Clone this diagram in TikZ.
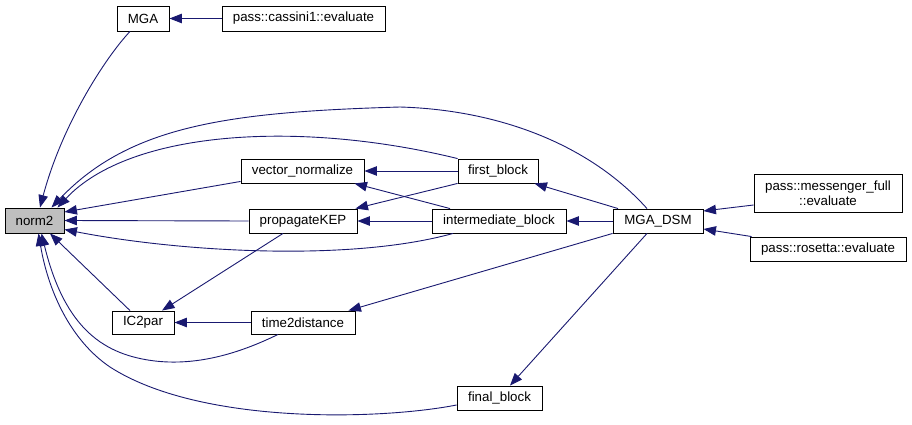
\documentclass[tikz,border=0pt]{standalone}
\usepackage{fontspec}
\setmainfont{Liberation Sans}
\usetikzlibrary{arrows.meta}
\definecolor{edgeblue}{HTML}{191970}
\definecolor{boxgray}{HTML}{BFBFBF}
\begin{document}
\begin{tikzpicture}[x=1pt,y=-1pt,
  fnbox/.style={draw=black, line width=0.9pt, fill=white, inner sep=0pt, align=center,
    font=\fontsize{13.3}{15.5}\selectfont, minimum height=24pt},
  edge/.style={draw=edgeblue, line width=0.9pt, -{Triangle[length=12.5pt,width=9.5pt]}, color=edgeblue}]
\useasboundingbox (0,0) rectangle (912,425);
% nodes
\node[fnbox, fill=boxgray, minimum width=59pt, minimum height=25pt] (norm2) at (34.5,220.5) {norm2};
\node[fnbox, minimum width=52pt, minimum height=25pt] (MGA) at (143,18.5) {MGA};
\node[fnbox, minimum width=163pt, minimum height=25pt] (cassini) at (303.5,18.5) {pass::cassini1::evaluate};
\node[fnbox, minimum width=123pt] (vecnorm) at (302.5,171) {vector\_normalize};
\node[fnbox, minimum width=108pt] (propKEP) at (303,221) {propagateKEP};
\node[fnbox, minimum width=80pt] (first) at (498,171) {first\_block};
\node[fnbox, minimum width=134pt] (inter) at (499,221) {intermediate\_block};
\node[fnbox, minimum width=90pt] (MGADSM) at (658,221) {MGA\_DSM};
\node[fnbox, minimum width=148pt, minimum height=38pt] (messenger) at (828,193) {pass::messenger\_full\\::evaluate};
\node[fnbox, minimum width=156pt] (rosetta) at (828,249) {pass::rosetta::evaluate};
\node[fnbox, minimum width=62pt, minimum height=23pt] (IC2par) at (143,322.5) {IC2par};
\node[fnbox, minimum width=104pt, minimum height=23pt] (t2d) at (303,322.5) {time2distance};
\node[fnbox, minimum width=85pt] (final) at (499.5,398) {final\_block};
% edges into norm2
\draw[edge] ([xshift=-13pt]MGA.south) .. controls (105,58) and (62,125) .. ([xshift=5.5pt]norm2.north);
\draw[edge] ([xshift=-11pt]MGADSM.north) .. controls (590,145) and (500,110) .. (400,107)
  .. controls (230,112) and (130,125) .. ([xshift=17pt]norm2.north);
\draw[edge] (first.north west) .. controls (300,120) and (130,130) .. ([xshift=23pt]norm2.north);
\draw[edge] ([yshift=2pt]vecnorm.south west) -- ([yshift=8.5pt]norm2.east);
\draw[edge] (propKEP.west) -- (norm2.east);
\draw[edge] ([xshift=-46pt]inter.south) .. controls (350,262) and (180,252) .. ([yshift=-9pt]norm2.east);
\draw[edge] ([xshift=-13pt]IC2par.north) -- ([xshift=15.5pt]norm2.south);
\draw[edge] ([xshift=-25pt]t2d.south) .. controls (230,358) and (190,365) .. (155,361)
  .. controls (105,355) and (65,330) .. ([xshift=7pt]norm2.south);
\draw[edge] ([yshift=-7pt]final.west) .. controls (380,420) and (200,425) .. (110,367)
  .. controls (70,340) and (48,290) .. ([xshift=4pt]norm2.south);
% other edges
\draw[edge] (cassini.west) -- (MGA.east);
\draw[edge] (first.west) -- (vecnorm.east);
\draw[edge] (first.south west) -- ([xshift=-2pt]propKEP.north east);
\draw[edge] ([xshift=-49pt]inter.north) -- ([xshift=52pt]vecnorm.south);
\draw[edge] (inter.west) -- (propKEP.east);
\draw[edge] ([xshift=-20pt]propKEP.south) -- ([xshift=19pt]IC2par.north);
\draw[edge] (t2d.west) -- (IC2par.east);
\draw[edge] ([xshift=-40pt]MGADSM.north) -- ([xshift=-4pt]first.south east);
\draw[edge] (MGADSM.west) -- (inter.east);
\draw[edge] (MGADSM.south west) -- ([xshift=-7pt]t2d.north east);
\draw[edge] ([xshift=-11pt]MGADSM.south) -- ([xshift=10.5pt]final.north);
\draw[edge] ([yshift=-12pt]messenger.west) -- ([yshift=10pt]MGADSM.east);
\draw[edge] ([xshift=2pt]rosetta.north west) -- ([yshift=-8pt]MGADSM.east);
\end{tikzpicture}
\end{document}
